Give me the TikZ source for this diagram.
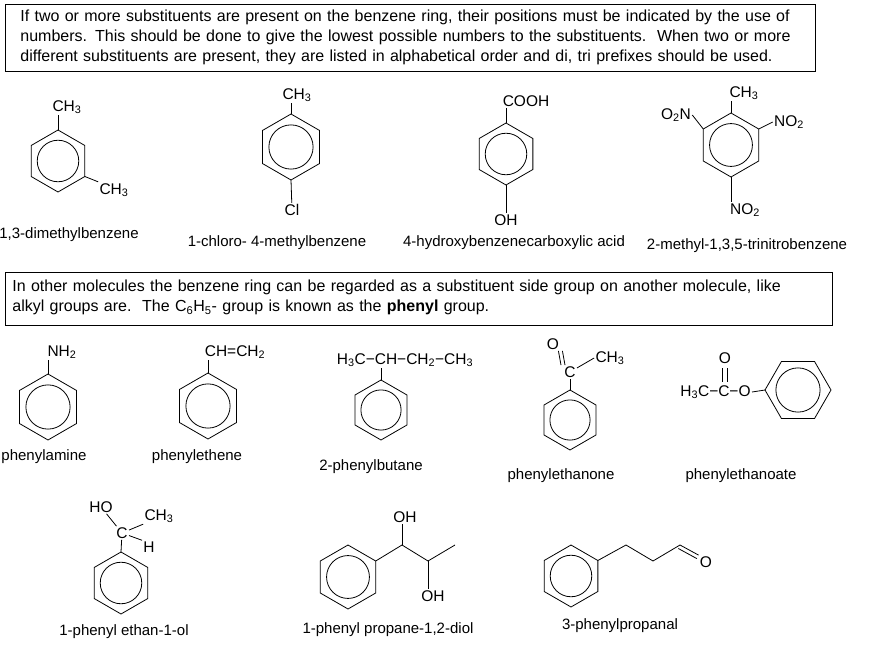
\documentclass[tikz,border=0pt]{standalone}
\usepackage{fontspec}
\setmainfont{Liberation Sans}
\usetikzlibrary{calc}
\newcommand\sub[1]{\textsubscript{#1}}
% ring: name, centre, radius, turn
\newcommand\benz[4]{%
  \coordinate (#1) at #2;
  \foreach \k/\a in {1/-90,2/-30,3/30,4/90,5/150,6/210}
    \coordinate (#1-\k) at ($#2+(\a+#4:#3)$);
  \draw (#1-1)--(#1-2)--(#1-3)--(#1-4)--(#1-5)--(#1-6)--cycle;
  \draw (#1) circle ({#3*0.67pt});
}
\begin{document}
\begin{tikzpicture}[x=1pt,y=-1pt,line width=0.8pt,
    txt/.style={inner sep=0pt,font=\fontsize{16}{20}\selectfont},
    grp/.style={inner sep=1pt,font=\fontsize{15.5}{17}\selectfont},
    cname/.style={inner sep=0pt,font=\fontsize{15}{17}\selectfont},
    frame/.style={draw,line width=1pt}]
\useasboundingbox (0,0) rectangle (876,661);
% text boxes
\draw[frame] (5,5) rectangle (815,72);
\node[txt,anchor=north west,align=left,text width=800pt] (intro) at (20,10)
  {If two or more substituents are present on the benzene ring, their positions must be indicated by the use of\\
   numbers. This should be done to give the lowest possible numbers to the substituents.\ \ When two or more\\
   different substituents are present, they are listed in alphabetical order and di, tri prefixes should be used.};
\draw[frame] (5,272) rectangle (832,325);
\node[txt,anchor=north west,align=left,text width=820pt] (phenyl) at (12,280)
  {In other molecules the benzene ring can be regarded as a substituent side group on another molecule, like\\
   alkyl groups are.\ \ The C\sub{6}H\sub{5}- group is known as the \textbf{phenyl} group.};
% first row
\benz{ra}{(58,161)}{31}{0}
\node[grp] (ra1) at (67,107) {CH\sub{3}};
\node[grp] (ra2) at (114,190) {CH\sub{3}};
\draw (ra-1) -- (ra1.south west-|ra-1);
\draw (ra-3) -- (ra2.north west);
\node[cname] at (69,235) {1,3-dimethylbenzene};
\benz{rb}{(291,147)}{33}{0}
\node[grp] (rb1) at (297,95) {CH\sub{3}};
\node[grp] (rb2) at (292,210) {Cl};
\draw (rb-1) -- (rb1.south west-|rb-1);
\draw (rb-4) -- (rb2);
\node[cname] at (277,243) {1-chloro- 4-methylbenzene};
\benz{rc}{(506,154)}{31}{0}
\node[grp] (rc1) at (526,101) {COOH};
\node[grp] (rc2) at (506,220) {OH};
\draw (rc-1) -- (rc1.south west-|rc-1);
\draw (rc-4) -- (rc2);
\node[cname] at (514,243) {4-hydroxybenzenecarboxylic acid};
\benz{rd}{(731,145)}{32}{0}
\node[grp] (rd1) at (744,93) {CH\sub{3}};
\node[grp] (rd2) at (676,115) {O\sub{2}N};
\node[grp] (rd3) at (789,122) {NO\sub{2}};
\node[grp] (rd4) at (745,210) {NO\sub{2}};
\draw (rd-1) -- (rd1.south west-|rd-1);
\draw (rd-6) -- (rd2.east);
\draw (rd-2) -- (rd3.west);
\draw (rd-4) -- (rd4.north west-|rd-4);
\node[cname] at (747,246) {2-methyl-1,3,5-trinitrobenzene};
% second row
\benz{re}{(48,407)}{33}{0}
\node[grp] (re1) at (62,352) {NH\sub{2}};
\draw (re-1) -- (re1.south west-|re-1);
\node[cname] at (44,457) {phenylamine};
\benz{rf}{(208,406)}{33}{0}
\node[grp] (rf1) at (235,352) {CH=CH\sub{2}};
\draw (rf-1) -- (rf1.south west-|rf-1);
\node[cname] at (197,457) {phenylethene};
\benz{rg}{(381,410)}{30}{0}
\node[grp] (rg1) at (405,360) {H\sub{3}C−CH−CH\sub{2}−CH\sub{3}};
\draw (rg-1) -- (rg1.south west-|rg-1);
\node[cname] at (371,467) {2-phenylbutane};
\benz{rh}{(570,420)}{30}{0}
\node[grp] (rhc) at (570,372) {C};
\node[grp] (rho) at (553,344) {O};
\node[grp] (rhm) at (610,358) {CH\sub{3}};
\draw (rh-1) -- (rhc);
\draw (rhc) -- (rhm.west);
\draw ([xshift=-2]rho.south east) -- ([xshift=-2]rhc.north west);
\draw ([xshift=2]rho.south east) -- ([xshift=2]rhc.north west);
\node[cname] at (561,476) {phenylethanone};
\benz{ri}{(798,390)}{33}{30}
\node[grp,anchor=east] (ri1) at (752,392) {H\sub{3}C−C−O};
\node[grp] (rio) at (725,358) {O};
\draw (ri1.east) -- (ri-5);
\draw (722,368) -- (722,382);
\draw (727,368) -- (727,382);
\node[cname] at (741,476) {phenylethanoate};
% third row
\benz{rj}{(121,583)}{31}{0}
\node[grp] (rjc) at (122,533) {C};
\node[grp] (rj1) at (101,507) {HO};
\node[grp] (rj2) at (159,516) {CH\sub{3}};
\node[grp] (rj3) at (149,547) {H};
\draw (rj-1) -- (rjc);
\draw (rjc) -- (rj1);
\draw (rjc) -- (rj2.south west);
\draw (rjc) -- (rj3.north west);
\node[cname] at (124,632) {1-phenyl ethan-1-ol};
\benz{rk}{(348,577)}{32}{0}
\coordinate (k1) at (402,545);
\coordinate (k2) at (428,561);
\coordinate (k3) at (455,545);
\node[grp] (rk1) at (405,517) {OH};
\node[grp] (rk2) at (433,596) {OH};
\draw (rk-2) -- (k1) -- (k2) -- (k3);
\draw (k1) -- (rk1.south west-|k1);
\draw (k2) -- (rk2.north west-|k2);
\node[cname] at (388,630) {1-phenyl propane-1,2-diol};
\benz{rl}{(571,576)}{31}{0}
\coordinate (l1) at (626,545);
\coordinate (l2) at (653,561);
\coordinate (l3) at (680,545);
\node[grp] (rlo) at (706,562) {O};
\draw (rl-2) -- (l1) -- (l2) -- (l3) -- (rlo.north west);
\draw ($(l3)+(-1.7,3.5)$) -- ($(rlo.north west)+(-1.7,3.5)$);
\node[cname] at (620,626) {3-phenylpropanal};
\end{tikzpicture}
\end{document}
